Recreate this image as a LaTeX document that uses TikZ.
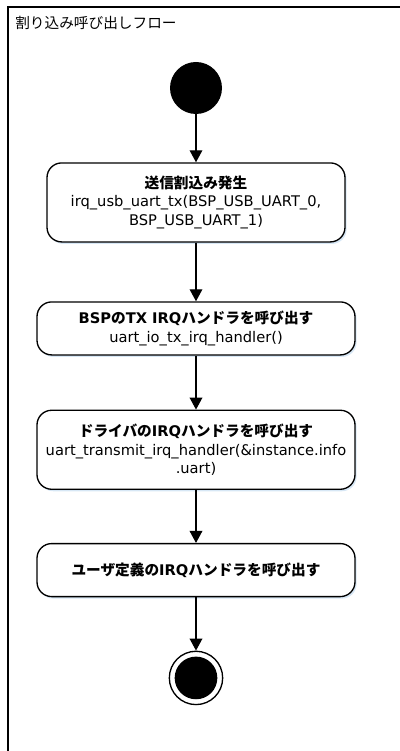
\documentclass[tikz,border=0pt]{standalone}
\usepackage{fontspec}
\setmainfont{DejaVu Sans}
\newfontfamily\jpfont{Noto Sans CJK JP}
\newcommand{\jp}[1]{{\jpfont #1}}
\usepackage{tikz}
\usetikzlibrary{positioning,arrows.meta,shadows}
\definecolor{glowblue}{RGB}{205,225,242}

\begin{document}
\begin{tikzpicture}[x=0.75pt, y=0.75pt,
    font=\fontsize{11}{14}\selectfont,
    >={Triangle[width=9.5pt,length=9pt]},
    startdot/.style={circle, fill=black, minimum size=39pt, inner sep=0pt},
    enddot/.style={circle, draw, line width=1pt, minimum size=40pt, inner sep=0pt,
        path picture={\fill (path picture bounding box.center) circle (16pt);}},
    activity/.style={draw, line width=1pt, rounded corners=11pt, align=center,
        inner sep=2pt, fill=white,
        drop shadow={shadow xshift=1.2pt, shadow yshift=-1.5pt, fill=glowblue, opacity=0.8}},
    flow/.style={->, line width=1pt}]
\useasboundingbox (0,0) rectangle (400,751);

%Frame
\draw[line width=1.3pt] (8,0) -- (8,744) -- (400,744);
\node[anchor=west, inner sep=0pt] (title) at (15,728) {\jp{割り込み呼び出しフロー}};

%Nodes
\node[startdot]  (start)  at (196,663)  {};
\node[activity, minimum width=223.5pt, minimum height=59.25pt]
    (act1)  [below=36pt of start]
    {{\bfseries\jp{送信割込み発生}}\\irq\_usb\_uart\_tx(BSP\_USB\_UART\_0,\\BSP\_USB\_UART\_1)};
\node[activity, minimum width=238.5pt, minimum height=39.75pt]
    (act2)  [below=44pt of act1]
    {{\bfseries BSP\jp{の}TX IRQ\jp{ハンドラを呼び出す}}\\uart\_io\_tx\_irq\_handler()};
\node[activity, minimum width=238.5pt, minimum height=59.25pt]
    (act3)  [below=40.5pt of act2]
    {{\bfseries\jp{ドライバの}IRQ\jp{ハンドラを呼び出す}}\\uart\_transmit\_irq\_handler(\&instance.info\\.uart)};
\node[activity, minimum width=238.5pt, minimum height=39.75pt]
    (act4)  [below=39.75pt of act3]
    {{\bfseries\jp{ユーザ定義の}IRQ\jp{ハンドラを呼び出す}}};
\node[enddot]    (end)    [below=40pt of act4]  {};

%Lines
\draw[flow] (start.south) -- (act1.north);
\draw[flow] (act1.south) -- (act2.north);
\draw[flow] (act2.south) -- (act3.north);
\draw[flow] (act3.south) -- (act4.north);
\draw[flow] (act4.south) -- (end.north);
\end{tikzpicture}
\end{document}
